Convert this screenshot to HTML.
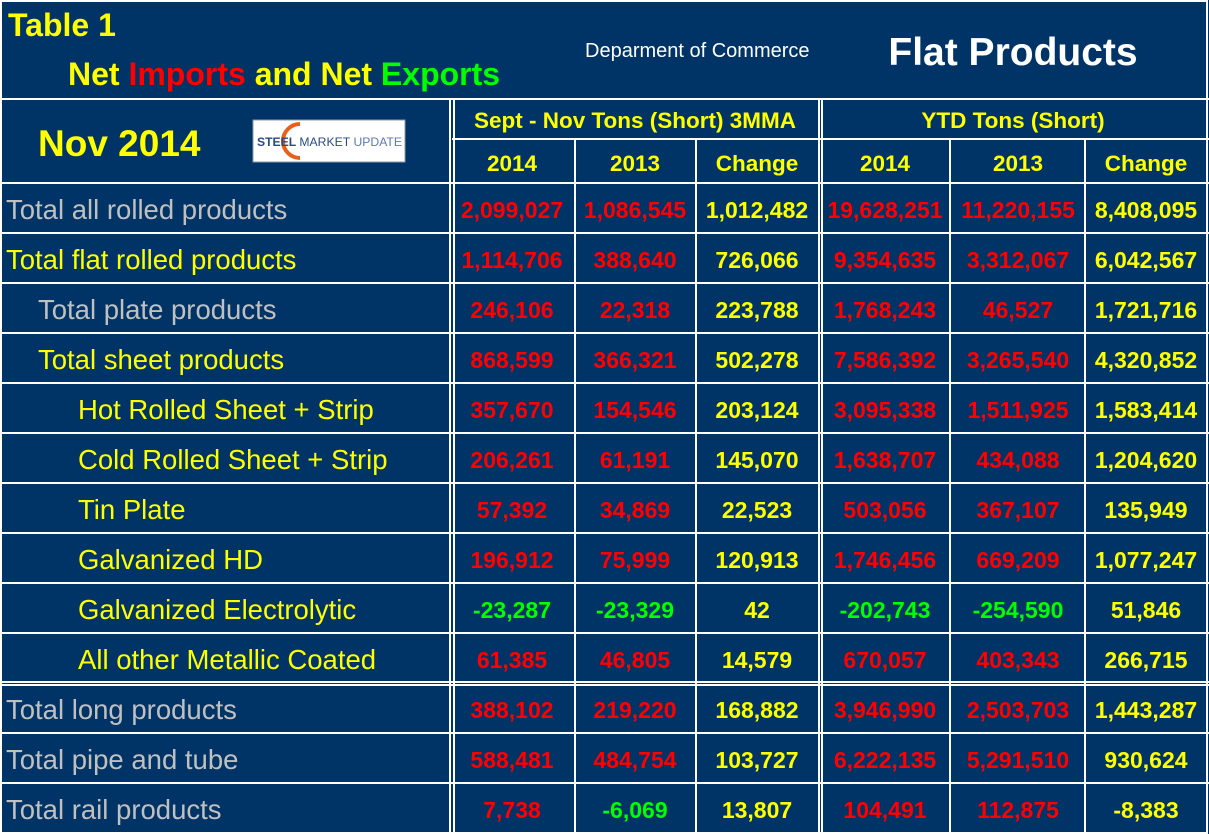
<!DOCTYPE html><html><head><style>body{margin:0;background:#003366}svg{display:block}</style></head><body>
<svg width="1209" height="834" xmlns="http://www.w3.org/2000/svg" font-family="Liberation Sans, Arial, sans-serif">
<rect width="1209" height="834" fill="#003366"/>
<g stroke="#fff" stroke-width="2" fill="none">
<rect x="1" y="1" width="1206" height="832"/>
<line x1="0" y1="99" x2="1209" y2="99"/>
<line x1="450" y1="99" x2="450" y2="834"/><line x1="454" y1="99" x2="454" y2="834"/>
<line x1="819" y1="99" x2="819" y2="834"/><line x1="822" y1="99" x2="822" y2="834"/>
<line x1="452" y1="139" x2="1209" y2="139"/>
<line x1="575" y1="139" x2="575" y2="834"/><line x1="696" y1="139" x2="696" y2="834"/>
<line x1="950" y1="139" x2="950" y2="834"/><line x1="1085" y1="139" x2="1085" y2="834"/>
<line x1="0" y1="183" x2="1209" y2="183"/>
<line x1="0" y1="233" x2="1209" y2="233"/><line x1="0" y1="283" x2="1209" y2="283"/>
<line x1="0" y1="333" x2="1209" y2="333"/><line x1="0" y1="383" x2="1209" y2="383"/>
<line x1="0" y1="433" x2="1209" y2="433"/><line x1="0" y1="483" x2="1209" y2="483"/>
<line x1="0" y1="533" x2="1209" y2="533"/><line x1="0" y1="583" x2="1209" y2="583"/>
<line x1="0" y1="633" x2="1209" y2="633"/><line x1="0" y1="682" x2="1209" y2="682"/><line x1="0" y1="685" x2="1209" y2="685"/>
<line x1="0" y1="733" x2="1209" y2="733"/><line x1="0" y1="783" x2="1209" y2="783"/>
</g>
<g font-weight="bold">
<text x="8" y="36" font-size="32" fill="#ffff00">Table 1</text>
<text x="68" y="85" font-size="32" fill="#ffff00">Net <tspan fill="#ff0000">Imports</tspan> and Net <tspan fill="#00ff00">Exports</tspan></text>
<text x="1013" y="65" font-size="39" fill="#fff" text-anchor="middle">Flat Products</text>
<text x="38" y="156" font-size="37" fill="#ffff00">Nov 2014</text>
</g>
<text x="585" y="57" font-size="20" fill="#fff">Deparment of Commerce</text>
<rect x="253" y="120" width="152" height="42" fill="#fff" stroke="#8899aa"/>
<path d="M300 124 A17 17 0 1 0 300 158" stroke="#e8601a" stroke-width="4" fill="none"/>
<text x="257" y="146" font-size="11.5" font-weight="bold" fill="#2a4a8a" textLength="145" lengthAdjust="spacingAndGlyphs">STEEL <tspan font-weight="normal">MARKET</tspan> <tspan font-weight="normal" fill="#5a7ab0">UPDATE</tspan></text>
<g font-weight="bold" font-size="22.5" fill="#ffff00" text-anchor="middle">
<text x="635" y="128">Sept - Nov Tons (Short) 3MMA</text>
<text x="1013" y="128">YTD Tons (Short)</text>
<text x="512" y="171">2014</text><text x="635" y="171">2013</text><text x="757" y="171">Change</text>
<text x="885" y="171">2014</text><text x="1018" y="171">2013</text><text x="1146" y="171">Change</text>
</g>
<g font-size="27.5">
<text x="6" y="219" fill="#c0c0c0">Total all rolled products</text>
<text x="6" y="269" fill="#ffff00">Total flat rolled products</text>
<text x="38" y="319" fill="#c0c0c0">Total plate products</text>
<text x="38" y="369" fill="#ffff00">Total sheet products</text>
<text x="78" y="419" fill="#ffff00">Hot Rolled Sheet + Strip</text>
<text x="78" y="469" fill="#ffff00">Cold Rolled Sheet + Strip</text>
<text x="78" y="519" fill="#ffff00">Tin Plate</text>
<text x="78" y="569" fill="#ffff00">Galvanized HD</text>
<text x="78" y="619" fill="#ffff00">Galvanized Electrolytic</text>
<text x="78" y="669" fill="#ffff00">All other Metallic Coated</text>
<text x="6" y="719" fill="#c0c0c0">Total long products</text>
<text x="6" y="769" fill="#c0c0c0">Total pipe and tube</text>
<text x="6" y="819" fill="#c0c0c0">Total rail products</text>
</g>
<g font-size="23" font-weight="bold" text-anchor="middle">
<g fill="#ff0000">
<text x="512" y="218">2,099,027</text><text x="635" y="218">1,086,545</text><text x="885" y="218">19,628,251</text><text x="1018" y="218">11,220,155</text>
<text x="512" y="268">1,114,706</text><text x="635" y="268">388,640</text><text x="885" y="268">9,354,635</text><text x="1018" y="268">3,312,067</text>
<text x="512" y="318">246,106</text><text x="635" y="318">22,318</text><text x="885" y="318">1,768,243</text><text x="1018" y="318">46,527</text>
<text x="512" y="368">868,599</text><text x="635" y="368">366,321</text><text x="885" y="368">7,586,392</text><text x="1018" y="368">3,265,540</text>
<text x="512" y="418">357,670</text><text x="635" y="418">154,546</text><text x="885" y="418">3,095,338</text><text x="1018" y="418">1,511,925</text>
<text x="512" y="468">206,261</text><text x="635" y="468">61,191</text><text x="885" y="468">1,638,707</text><text x="1018" y="468">434,088</text>
<text x="512" y="518">57,392</text><text x="635" y="518">34,869</text><text x="885" y="518">503,056</text><text x="1018" y="518">367,107</text>
<text x="512" y="568">196,912</text><text x="635" y="568">75,999</text><text x="885" y="568">1,746,456</text><text x="1018" y="568">669,209</text>
<text x="512" y="668">61,385</text><text x="635" y="668">46,805</text><text x="885" y="668">670,057</text><text x="1018" y="668">403,343</text>
<text x="512" y="718">388,102</text><text x="635" y="718">219,220</text><text x="885" y="718">3,946,990</text><text x="1018" y="718">2,503,703</text>
<text x="512" y="768">588,481</text><text x="635" y="768">484,754</text><text x="885" y="768">6,222,135</text><text x="1018" y="768">5,291,510</text>
<text x="512" y="818">7,738</text><text x="885" y="818">104,491</text><text x="1018" y="818">112,875</text>
</g>
<g fill="#00ff00">
<text x="512" y="618">-23,287</text><text x="635" y="618">-23,329</text><text x="885" y="618">-202,743</text><text x="1018" y="618">-254,590</text>
<text x="635" y="818">-6,069</text>
</g>
<g fill="#ffff00">
<text x="757" y="218">1,012,482</text><text x="1146" y="218">8,408,095</text>
<text x="757" y="268">726,066</text><text x="1146" y="268">6,042,567</text>
<text x="757" y="318">223,788</text><text x="1146" y="318">1,721,716</text>
<text x="757" y="368">502,278</text><text x="1146" y="368">4,320,852</text>
<text x="757" y="418">203,124</text><text x="1146" y="418">1,583,414</text>
<text x="757" y="468">145,070</text><text x="1146" y="468">1,204,620</text>
<text x="757" y="518">22,523</text><text x="1146" y="518">135,949</text>
<text x="757" y="568">120,913</text><text x="1146" y="568">1,077,247</text>
<text x="757" y="618">42</text><text x="1146" y="618">51,846</text>
<text x="757" y="668">14,579</text><text x="1146" y="668">266,715</text>
<text x="757" y="718">168,882</text><text x="1146" y="718">1,443,287</text>
<text x="757" y="768">103,727</text><text x="1146" y="768">930,624</text>
<text x="757" y="818">13,807</text><text x="1146" y="818">-8,383</text>
</g>
</g>
</svg>
</body></html>
